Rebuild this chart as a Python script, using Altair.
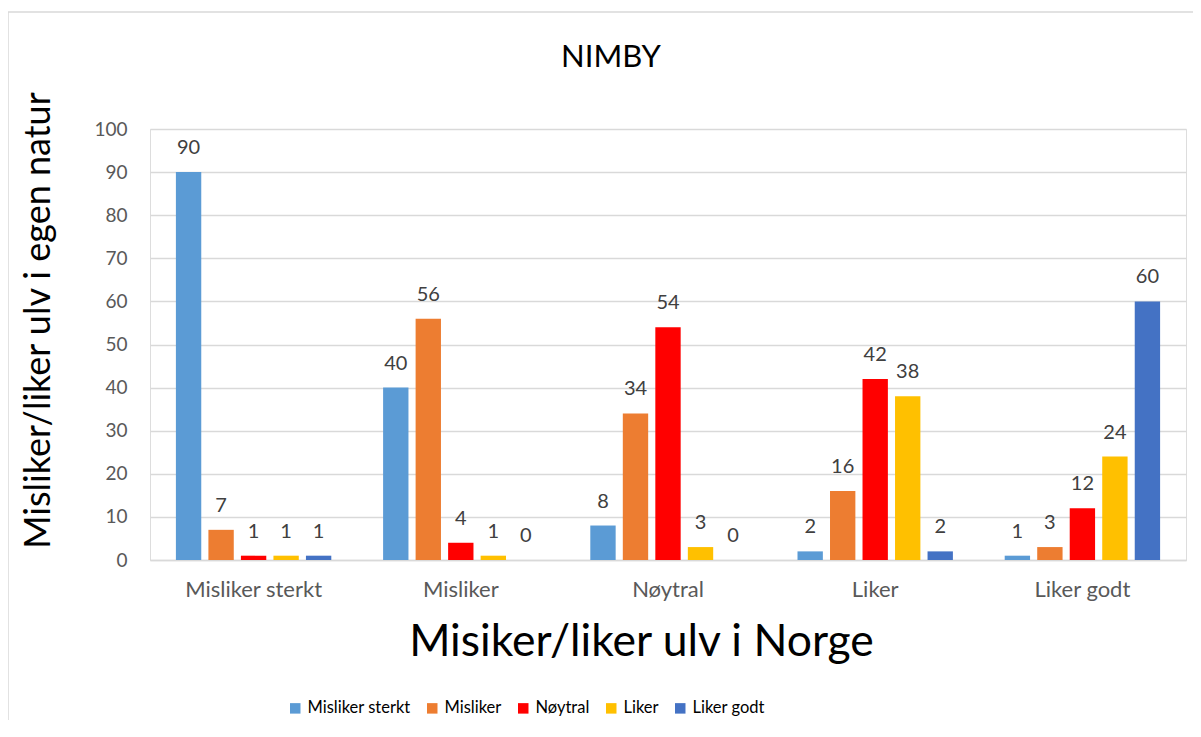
import altair as alt
import pandas as pd

groups = ["Misliker sterkt", "Misliker", "Nøytral", "Liker", "Liker godt"]
series = ["Misliker sterkt", "Misliker", "Nøytral", "Liker", "Liker godt"]
colors = ["#5B9BD5", "#ED7D31", "#FF0000", "#FFC000", "#4472C4"]
vals_misliker_sterkt = [90, 40, 8, 2, 1]
vals_misliker = [7, 56, 34, 16, 3]
vals_noytral = [1, 4, 54, 42, 12]
vals_liker = [1, 1, 3, 38, 24]
vals_liker_godt = [1, 0, 0, 2, 60]
chart_title = "NIMBY"

all_vals = [vals_misliker_sterkt, vals_misliker, vals_noytral, vals_liker, vals_liker_godt]
rows = []
for s, vals in zip(series, all_vals):
    for g, v in zip(groups, vals):
        rows.append({"gruppe": g, "serie": s, "verdi": v})
df = pd.DataFrame(rows)

FONT = "Lato"
W, H = 1036, 431

x = alt.X("gruppe:N", sort=groups,
          scale=alt.Scale(paddingInner=0.25, paddingOuter=0.125),
          axis=alt.Axis(title="Misiker/liker ulv i Norge", labelAngle=0,
                        labelFontSize=22, labelColor="#595959", labelFont=FONT,
                        labelPadding=19, ticks=False, domainColor="#d9d9d9", domainWidth=1.5,
                        titleFontSize=44.5, titleFont=FONT, titleFontWeight="normal",
                        titleColor="#000000", titleX=491, titleY=82,
                        titleBaseline="middle", titleAnchor="start", titleAlign="center"))
xo = alt.XOffset("serie:N", sort=series, scale=alt.Scale(paddingInner=0.22))
y = alt.Y("verdi:Q", scale=alt.Scale(domain=[0, 100]),
          axis=alt.Axis(values=list(range(0, 101, 10)), title="Misliker/liker  ulv i egen natur",
                        labelFontSize=19, labelColor="#595959", labelFont=FONT,
                        labelPadding=23, ticks=False, domain=False,
                        gridColor="#d9d9d9", gridWidth=1.3,
                        titleFontSize=36, titleFont=FONT, titleFontWeight="normal",
                        titleColor="#000000", titleX=-112, titleY=191,
                        titleAngle=270, titleBaseline="middle", titleAlign="center"))
color = alt.Color("serie:N", sort=series,
                  scale=alt.Scale(domain=series, range=colors),
                  legend=alt.Legend(title=None, orient="none", direction="horizontal",
                                    legendX=137, legendY=571, symbolType="square",
                                    symbolSize=110, symbolStrokeWidth=0,
                                    labelFontSize=16.5, labelFont=FONT, labelColor="#000000",
                                    labelOffset=4, columnPadding=13))

base = alt.Chart(df).encode(x=x, xOffset=xo)
bars = base.mark_bar().encode(y=y, color=color)
labels = base.mark_text(baseline="bottom", dy=-14, fontSize=20, font=FONT,
                        color="#404040").encode(y="verdi:Q", text="verdi:Q")

border = alt.Chart(pd.DataFrame({"a": [0]})).mark_rect(
    fill=None, stroke="#d9d9d9", strokeWidth=1.5, clip=False).encode(
    x=alt.value(-142), x2=alt.value(1100), y=alt.value(-117), y2=alt.value(620))

title_mark = alt.Chart(pd.DataFrame({"t": [chart_title]})).mark_text(
    fontSize=31, font=FONT, color="#000000", align="center", baseline="middle").encode(
    x=alt.value(461), y=alt.value(-71), text="t:N")

chart = alt.layer(border, bars, labels, title_mark).properties(
    width=W, height=H,
    autosize=alt.AutoSizeParams(type="none"),
    padding={"left": 142, "top": 121, "right": 7, "bottom": 160},
).configure_view(stroke=None).configure(background="white")

chart.save("out.html", embed_options={"renderer": "svg", "actions": False})
